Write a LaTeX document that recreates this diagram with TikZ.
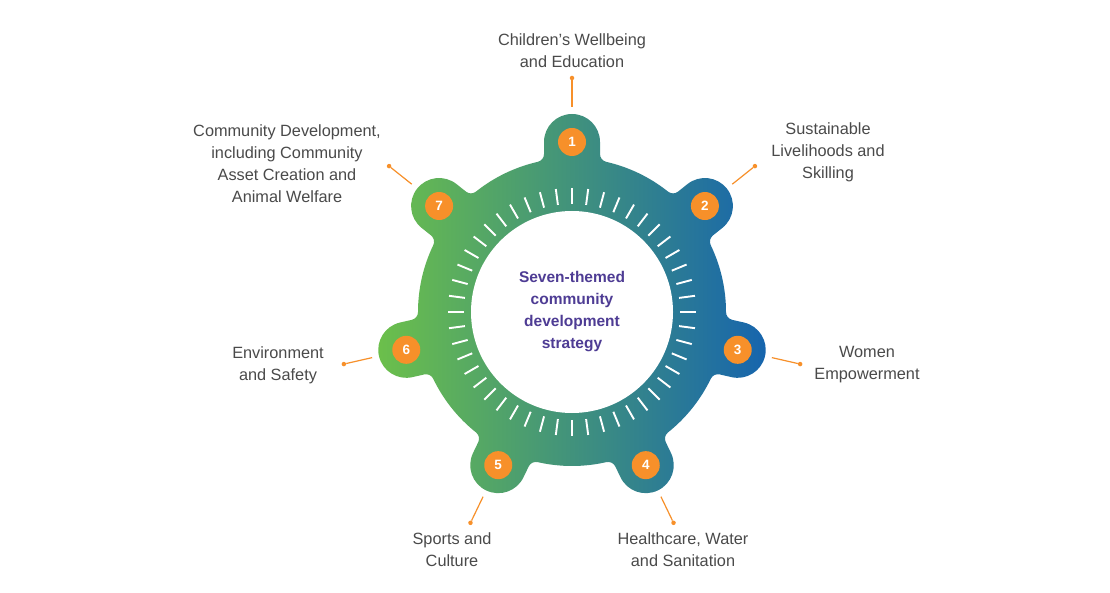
\documentclass[tikz,border=0pt]{standalone}
\usepackage{fontspec}
\setmainfont{Liberation Sans}
\setsansfont{Liberation Sans}
\usetikzlibrary{calc}
\definecolor{ringgreen}{HTML}{6CC04A}
\definecolor{ringteal}{HTML}{3A968A}
\definecolor{ringblue}{HTML}{1664AE}
\definecolor{dotorange}{HTML}{F7902A}
\definecolor{labelgray}{HTML}{4A4A4A}
\definecolor{hubpurple}{HTML}{4E3C94}
\tikzset{
  theme/.style={align=center, text=labelgray, font=\fontsize{16.3}{22}\selectfont},
  hub/.style={align=center, text=hubpurple, font=\bfseries\fontsize{15.5}{22}\selectfont},
  numdot/.style={circle, fill=dotorange, minimum size=28pt, inner sep=0pt, text=white, font=\bfseries\fontsize{13.5}{13.5}\selectfont},
  leader/.style={draw=dotorange, line width=1.2pt},
  leaderend/.style={circle, fill=dotorange, minimum size=4.5pt, inner sep=0pt},
  tickmark/.style={white, line width=1.9pt},
  ringfill/.style={left color=ringgreen, middle color=ringteal, right color=ringblue}
}
\begin{document}
\begin{tikzpicture}[x=1pt,y=1pt]
\useasboundingbox (0,0) rectangle (1110,592);
\fill[white] (0,0) rectangle (1110,592);
%\draw[gray,very thin] (0,0) grid[step=50] (1110,592);
\coordinate (ctr) at (572,280);
% outline of the ring with its seven lobes, run round once
\shade[ringfill] ($(ctr)+({90-12.84}:154)$)
  \foreach \k [evaluate=\k as \a using {90+(\k-1)*360/7}] in {1,...,7}{
    arc[start angle=\a+167.16, end angle=\a+90, radius=8]
    -- ($(ctr)+(\a:170)+(\a-90:28)$)
    arc[start angle=\a-90, end angle=\a+90, radius=28]
    -- ($(ctr)+(\a:157.95)+(\a+90:28)$)
    arc[start angle=\a+270, end angle=\a+192.84, radius=8]
    arc[start angle=\a+12.84, end angle=\a+38.59, radius=154]
  } -- cycle;
\fill[white] (ctr) circle[radius=101];
\foreach \i in {0,...,47}
  \draw[tickmark] ($(ctr)+(\i*7.5:108)$) -- ($(ctr)+(\i*7.5:124)$);
\node[hub] (hubtext) at (ctr) {Seven-themed\\community\\development\\strategy};
% numbers and leaders
\foreach \k [evaluate=\k as \a using {90-(\k-1)*360/7}] in {1,...,7}{
  \node[numdot] (num\k) at ($(ctr)+(\a:170)$) {\k};
  \coordinate (lead\k) at ($(ctr)+(\a:205)$);
  \node[leaderend] (end\k) at ($(ctr)+(\a:234)$) {};
  \draw[leader] (lead\k) -- (end\k);
}
% themes
\node[theme] (theme1) at (572,541) {Children’s Wellbeing\\and Education};
\node[theme] (theme2) at (828,440) {Sustainable\\Livelihoods and\\Skilling};
\node[theme] (theme3) at (867,227) {Women\\Empowerment};
\node[theme] (theme4) at (683,42) {Healthcare, Water\\and Sanitation};
\node[theme] (theme5) at (452,42) {Sports and\\Culture};
\node[theme] (theme6) at (278,227) {Environment\\and Safety};
\node[theme] (theme7) at (287,428) {Community Development,\\including Community\\Asset Creation and\\Animal Welfare};
\end{tikzpicture}
\end{document}
